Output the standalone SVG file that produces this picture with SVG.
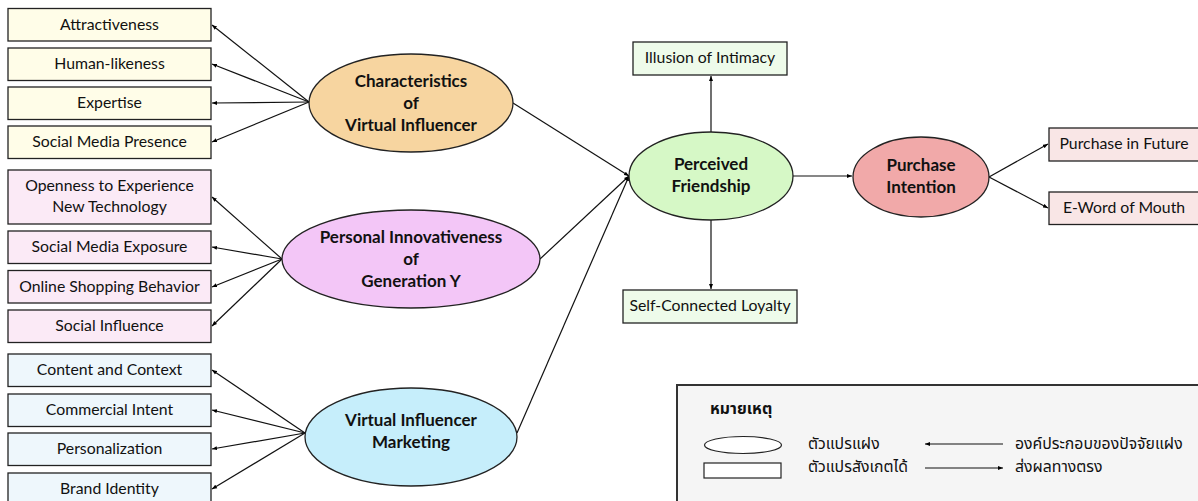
<svg xmlns="http://www.w3.org/2000/svg" width="1198" height="501" viewBox="0 0 1198 501">
<defs>
<marker id="ah" viewBox="0 0 10 10" refX="10" refY="5" markerWidth="5" markerHeight="5" orient="auto" markerUnits="userSpaceOnUse">
<path d="M0,1 L10,5 L0,9 Z" fill="#000"/>
</marker>
<style>
.bx{stroke:#222;stroke-width:1.3}
.y{fill:#FFFDE8}.p{fill:#FBEAF6}.b{fill:#EEF7FC}.g{fill:#EEFBEA}.r{fill:#F9E6E6}
.el{stroke:#222;stroke-width:1.3}
.t{font-family:Lato,"Liberation Sans",sans-serif;font-size:15.8px;fill:#111;text-anchor:middle}
.bt{font-family:Lato,"Liberation Sans",sans-serif;font-size:17px;font-weight:bold;fill:#111;text-anchor:middle}
.th{font-family:"Noto Sans Thai","Noto Sans","DejaVu Sans",sans-serif;font-size:15.8px;fill:#111}
.ln{stroke:#111;stroke-width:1.2;fill:none;marker-end:url(#ah)}
</style>
</defs>
<rect width="1198" height="501" fill="#fff"/>

<g id="connectors">
<line class="ln" x1="309" y1="102" x2="212" y2="25"/>
<line class="ln" x1="309" y1="102" x2="212" y2="64"/>
<line class="ln" x1="309" y1="102" x2="212" y2="103"/>
<line class="ln" x1="309" y1="102" x2="212" y2="142"/>
<line class="ln" x1="282" y1="259" x2="212" y2="197"/>
<line class="ln" x1="282" y1="259" x2="212" y2="247"/>
<line class="ln" x1="282" y1="259" x2="212" y2="287"/>
<line class="ln" x1="282" y1="259" x2="212" y2="326"/>
<line class="ln" x1="305" y1="433" x2="212" y2="370"/>
<line class="ln" x1="305" y1="433" x2="212" y2="410"/>
<line class="ln" x1="305" y1="433" x2="212" y2="449"/>
<line class="ln" x1="305" y1="433" x2="212" y2="489"/>
<line class="ln" x1="513" y1="103" x2="629" y2="176"/>
<line class="ln" x1="540" y1="259" x2="629" y2="176"/>
<line class="ln" x1="517" y1="433" x2="629" y2="176"/>
<line class="ln" x1="711" y1="132" x2="711" y2="76"/>
<line class="ln" x1="711" y1="220" x2="711" y2="289"/>
<line class="ln" x1="793" y1="176" x2="852" y2="176"/>
<line class="ln" x1="989" y1="177" x2="1048" y2="144"/>
<line class="ln" x1="989" y1="177" x2="1048" y2="208"/>
</g>

<g id="attractiveness"><rect class="bx y" x="8" y="8.5" width="203" height="32.5"/><text class="t" x="109.5" y="30">Attractiveness</text></g>
<g id="human-likeness"><rect class="bx y" x="8" y="48" width="203" height="32.5"/><text class="t" x="109.5" y="69">Human-likeness</text></g>
<g id="expertise"><rect class="bx y" x="8" y="87" width="203" height="32.5"/><text class="t" x="109.5" y="108">Expertise</text></g>
<g id="social-media-presence"><rect class="bx y" x="8" y="126" width="203" height="32.5"/><text class="t" x="109.5" y="147">Social Media Presence</text></g>

<g id="openness"><rect class="bx p" x="8" y="170" width="203" height="54"/><text class="t" x="109.5" y="191">Openness to Experience</text><text class="t" x="109.5" y="212">New Technology</text></g>
<g id="social-media-exposure"><rect class="bx p" x="8" y="231" width="203" height="32.5"/><text class="t" x="109.5" y="252">Social Media Exposure</text></g>
<g id="online-shopping"><rect class="bx p" x="8" y="270.5" width="203" height="32.5"/><text class="t" x="109.5" y="291.5">Online Shopping Behavior</text></g>
<g id="social-influence"><rect class="bx p" x="8" y="310" width="203" height="32.5"/><text class="t" x="109.5" y="331">Social Influence</text></g>

<g id="content-context"><rect class="bx b" x="8" y="354" width="203" height="32.5"/><text class="t" x="109.5" y="375">Content and Context</text></g>
<g id="commercial-intent"><rect class="bx b" x="8" y="394" width="203" height="32.5"/><text class="t" x="109.5" y="415">Commercial Intent</text></g>
<g id="personalization"><rect class="bx b" x="8" y="433" width="203" height="32.5"/><text class="t" x="109.5" y="454">Personalization</text></g>
<g id="brand-identity"><rect class="bx b" x="8" y="473" width="203" height="32.5"/><text class="t" x="109.5" y="494">Brand Identity</text></g>

<g id="characteristics"><ellipse class="el" cx="411" cy="103" rx="102" ry="49" fill="#F7D5A0"/><text class="bt" x="411" y="87">Characteristics</text><text class="bt" x="411" y="109">of</text><text class="bt" x="411" y="131">Virtual Influencer</text></g>
<g id="personal-innovativeness"><ellipse class="el" cx="411" cy="259" rx="129" ry="49" fill="#F3C6F7"/><text class="bt" x="411" y="243">Personal Innovativeness</text><text class="bt" x="411" y="265">of</text><text class="bt" x="411" y="287">Generation Y</text></g>
<g id="vim"><ellipse class="el" cx="411" cy="437" rx="106" ry="49" fill="#C6EEFB"/><text class="bt" x="411" y="426">Virtual Influencer</text><text class="bt" x="411" y="448">Marketing</text></g>

<g id="perceived-friendship"><ellipse class="el" cx="711" cy="176" rx="82" ry="44" fill="#D6F8C6"/><text class="bt" x="711" y="170">Perceived</text><text class="bt" x="711" y="192">Friendship</text></g>
<g id="illusion"><rect class="bx g" x="633" y="42" width="154" height="33"/><text class="t" x="710" y="63">Illusion of Intimacy</text></g>
<g id="self-connected"><rect class="bx g" x="623" y="290" width="174" height="33"/><text class="t" x="710" y="311">Self-Connected Loyalty</text></g>

<g id="purchase-intention"><ellipse class="el" cx="921" cy="177" rx="68" ry="40" fill="#F1A9A9"/><text class="bt" x="921" y="171">Purchase</text><text class="bt" x="921" y="193">Intention</text></g>
<g id="purchase-future"><rect class="bx r" x="1049" y="128" width="150" height="33"/><text class="t" x="1124" y="149">Purchase in Future</text></g>
<g id="e-word"><rect class="bx r" x="1049" y="192" width="150" height="32.5"/><text class="t" x="1124" y="213">E-Word of Mouth</text></g>

<g id="legend">
<rect x="677" y="385" width="530" height="130" fill="#F5F5F5" stroke="#333" stroke-width="2"/>
<text class="th" x="710" y="414" font-weight="bold" font-size="18">หมายเหตุ</text>
<ellipse cx="743" cy="445" rx="38.5" ry="8.5" fill="#fff" stroke="#222" stroke-width="1.2"/>
<rect x="704" y="463" width="77" height="15" fill="#fff" stroke="#222" stroke-width="1.2"/>
<text class="th" x="808" y="449">ตัวแปรแฝง</text>
<text class="th" x="808" y="472">ตัวแปรสังเกตได้</text>
<line class="ln" x1="1003" y1="444" x2="925" y2="444"/>
<line class="ln" x1="925" y1="468" x2="1003" y2="468"/>
<text class="th" x="1015" y="449">องค์ประกอบของปัจจัยแฝง</text>
<text class="th" x="1015" y="472">ส่งผลทางตรง</text>
</g>
</svg>
